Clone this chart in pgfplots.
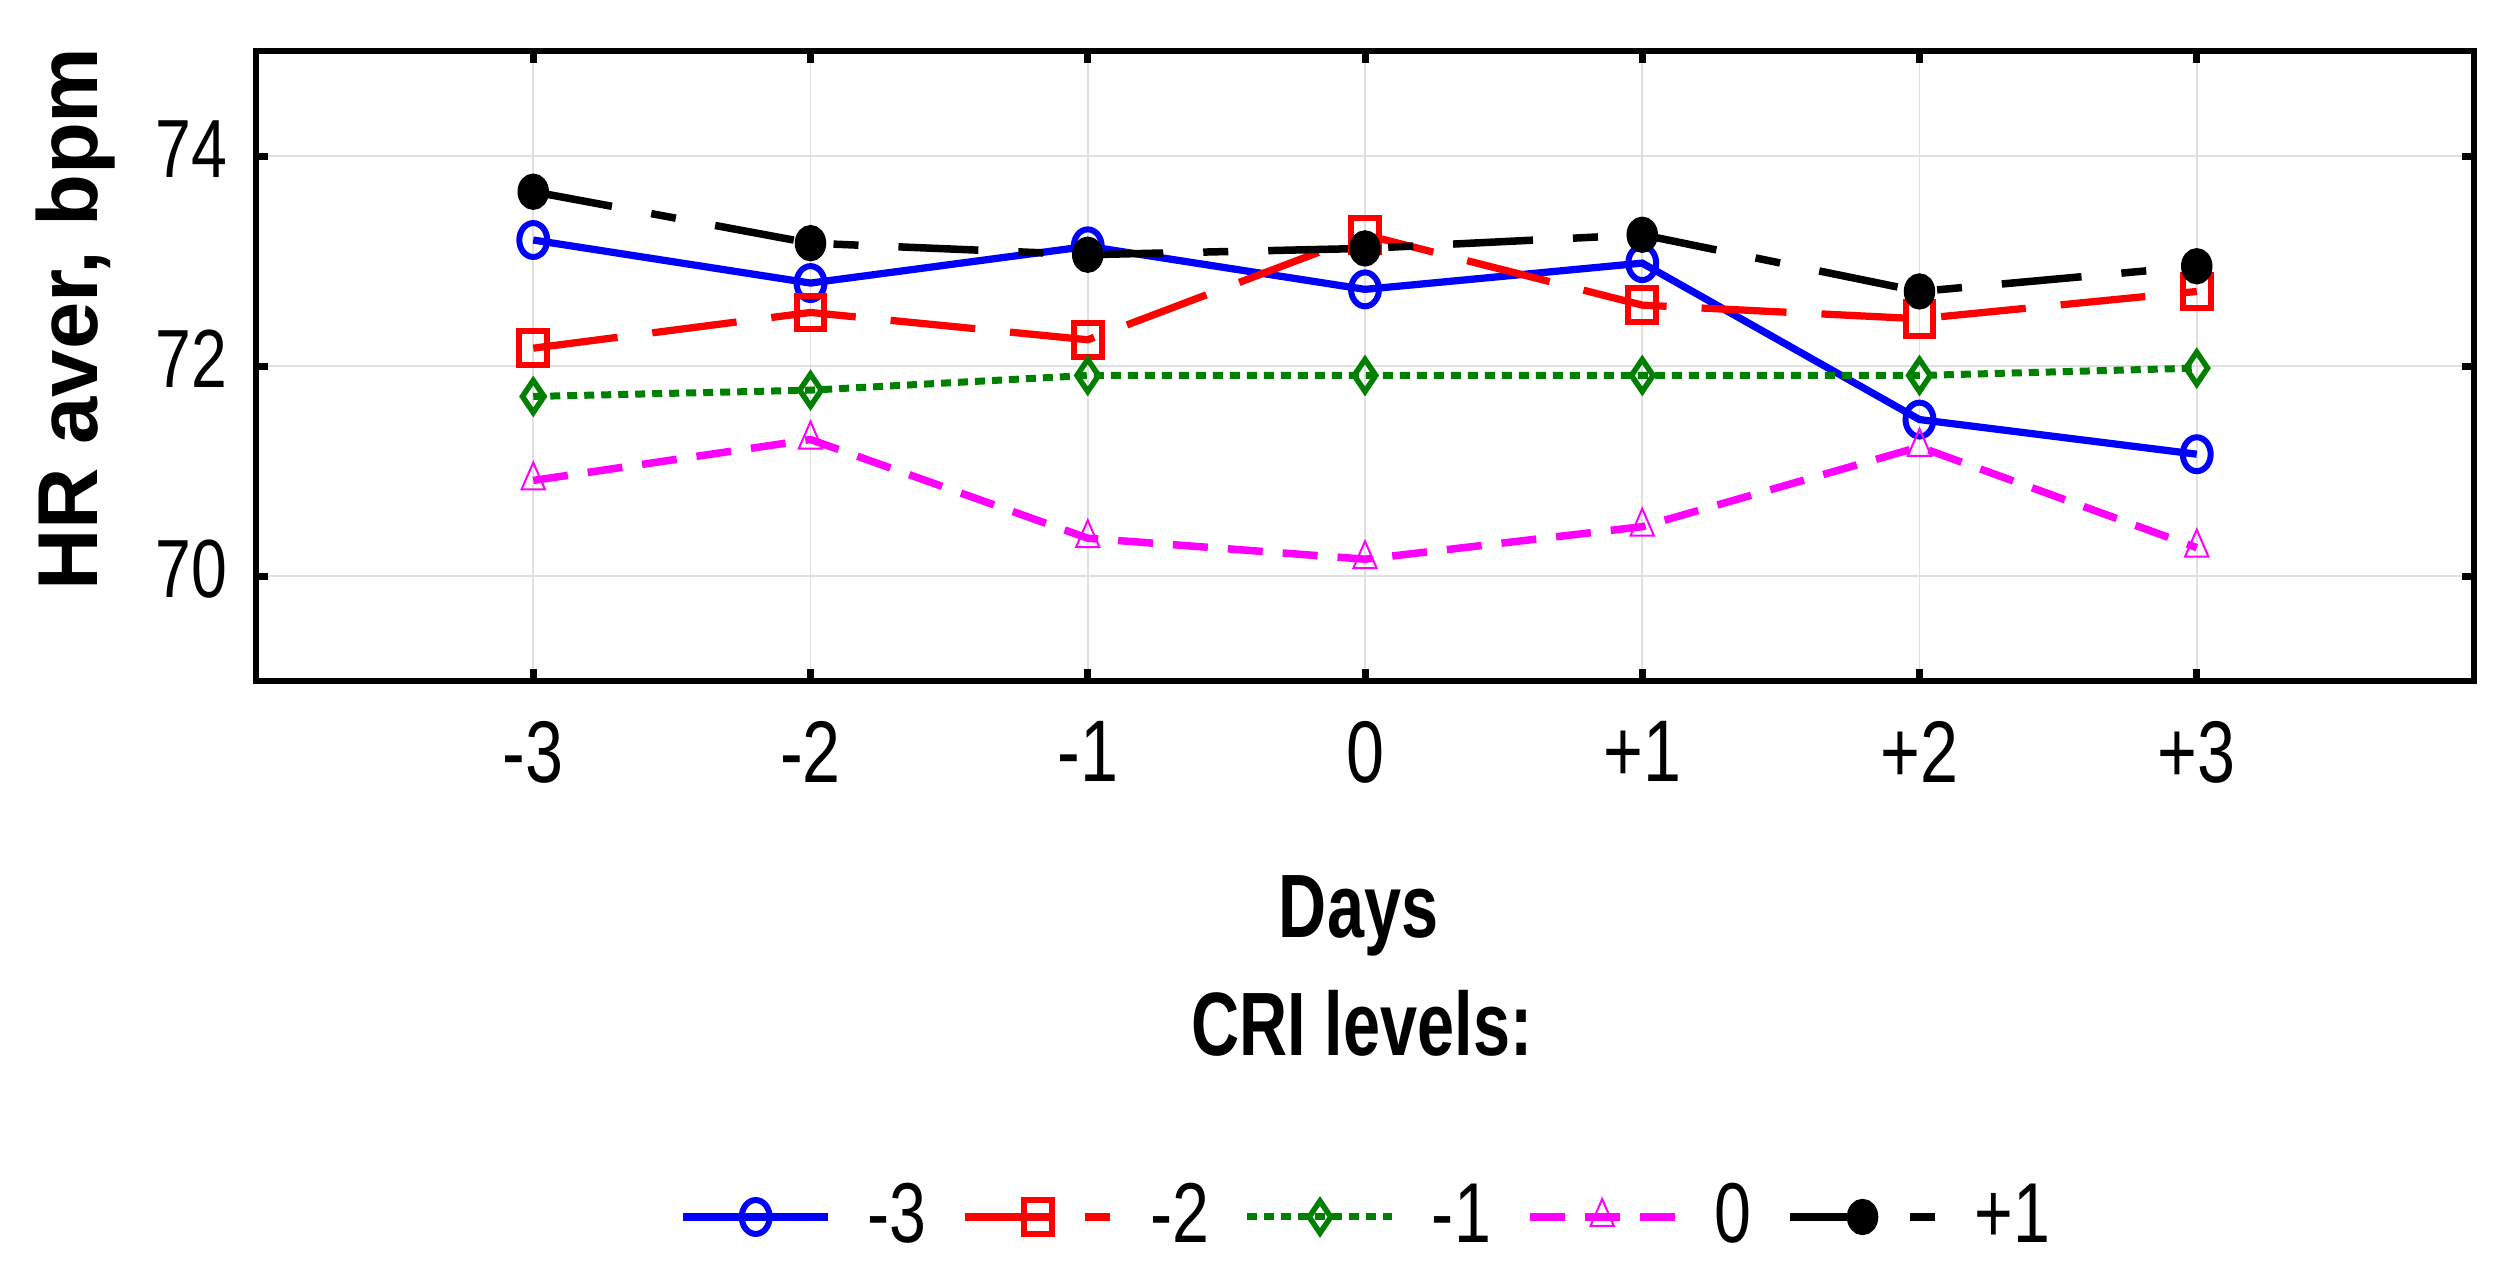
\documentclass[border=0pt]{standalone}
\usepackage{fontspec}
\setmainfont{Liberation Sans}
\newfontfamily\narrow{Liberation Sans}[FakeStretch=0.78]
\newfontfamily\narrowb{Liberation Sans}[FakeStretch=0.74]
\usepackage{pgfplots}
\pgfplotsset{compat=1.18}
\definecolor{sgreen}{RGB}{0,128,0}
\definecolor{smag}{RGB}{255,0,255}
\definecolor{sblue}{RGB}{0,0,255}
\definecolor{sred}{RGB}{255,0,0}
\begin{document}
\begin{tikzpicture}
\useasboundingbox (-51.2pt,-120.4pt) rectangle (451.2pt,136.2pt);
\begin{axis}[
  at={(0pt,0pt)}, anchor=south west,
  scale only axis, width=443.6pt, height=126pt,
  xmin=-4, xmax=4, ymin=69, ymax=75,
  xtick={-3,-2,-1,0,1,2,3}, xticklabels={-3,-2,-1,0,+1,+2,+3},
  ytick={70,72,74}, yticklabels={70,72,74},
  tick align=inside, tick pos=both, major tick length=2.4pt,
  every tick/.style={black, line width=1.4pt},
  axis line style={line width=1.3pt},
  grid=major, major grid style={draw=black!12, line width=0.35pt},
  xticklabel style={font=\fontsize{17.5}{20}\narrow, anchor=north, inner sep=0pt, yshift=-7.8pt},
  yticklabel style={font=\fontsize{16.5}{20}\narrow, anchor=east, inner sep=0pt, xshift=-5.6pt, yshift=1.4pt},
  legend columns=5,
  legend style={at={(0.5,-0.8508)}, anchor=center, draw=none, fill=none,
    font=\fontsize{17}{20}\narrow, nodes={inner sep=0pt},
    /tikz/every odd column/.append style={column sep=7.2pt},
    /tikz/every even column/.append style={column sep=7.0pt}},
  legend image code/.code={\draw[mark repeat=2,mark phase=2] plot coordinates {(0pt,0pt) (14.5pt,0pt) (29pt,0pt)};},
]
\addplot[sblue, line width=1.45pt, mark=o, mark size=3pt,
  mark options={solid, line width=1.2pt, xscale=0.93, yscale=1.13}]
  coordinates {(-3,73.20) (-2,72.79) (-1,73.14) (0,72.73) (1,72.98) (2,71.49) (3,71.16)};
\addlegendentry{-3}
\addplot[sred, line width=1.45pt, dash pattern=on 17pt off 7pt, mark=square, mark size=3pt,
  mark options={solid, line width=1.2pt, xscale=0.93, yscale=1.13}]
  coordinates {(-3,72.17) (-2,72.51) (-1,72.25) (0,73.25) (1,72.58) (2,72.45) (3,72.71)};
\addlegendentry{-2}
\addplot[sgreen, line width=1.4pt, dash pattern=on 2pt off 1.4pt, mark=diamond, mark size=3.2pt,
  mark options={solid, line width=1.1pt, xscale=0.9}]
  coordinates {(-3,71.71) (-2,71.77) (-1,71.91) (0,71.91) (1,71.91) (2,71.91) (3,71.98)};
\addlegendentry{-1}
\addplot[smag, line width=1.5pt, dash pattern=on 7pt off 4pt, mark=triangle, mark size=3.6pt,
  mark options={solid, line width=0.4pt, xscale=0.75}]
  coordinates {(-3,70.91) (-2,71.30) (-1,70.36) (0,70.16) (1,70.47) (2,71.23) (3,70.27)};
\addlegendentry{0}
\addplot[black, line width=1.5pt, dash pattern=on 16pt off 8pt on 5pt off 8pt, mark=*, mark size=2.4pt,
  mark options={solid, yscale=1.2}]
  coordinates {(-3,73.66) (-2,73.17) (-1,73.06) (0,73.12) (1,73.25) (2,72.71) (3,72.95)};
\addlegendentry{+1}
\end{axis}
\node[rotate=90, anchor=base, font=\fontsize{17}{20}\selectfont\bfseries] at (-31.6pt,72.4pt) {HR aver, bpm};
\node[anchor=base, font=\fontsize{18}{20}\narrowb\bfseries] at (220.5pt,-51.2pt) {Days};
\node[anchor=base, font=\fontsize{18}{20}\narrowb\bfseries] at (221.2pt,-74.8pt) {CRI levels:};
\end{tikzpicture}
\end{document}
